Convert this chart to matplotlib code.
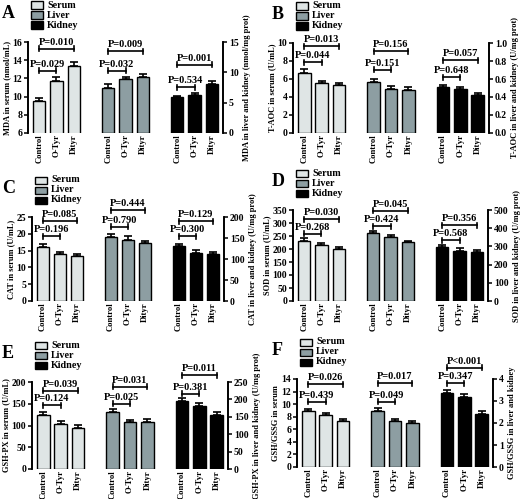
import matplotlib.pyplot as plt
from matplotlib.patches import Rectangle
from matplotlib.ticker import FormatStrFormatter

plt.rcParams['font.family'] = ['Liberation Serif', 'DejaVu Serif']
plt.rcParams['font.weight'] = 'bold'
plt.rcParams['axes.linewidth'] = 1.2

W, H = 520, 499

groups = ['Control', 'O-Tyr', 'Dityr']
tissues = ['Serum', 'Liver', 'Kidney']
tissue_colors = ['#dfe5e5', '#8d9ea2', '#000000']
xpos = [0, 1, 2, 4, 5, 6, 8, 9, 10]

# first 3 = serum (left axis), next 3 = liver, last 3 = kidney (right axis)
mda_mean = [9.5, 11.7, 13.4, 7.5, 8.9, 9.2, 6.0, 6.3, 8.1]
mda_err = [0.4, 0.45, 0.45, 0.5, 0.3, 0.45, 0.15, 0.35, 0.4]
taoc_mean = [6.7, 5.5, 5.3, 0.57, 0.485, 0.475, 0.507, 0.49, 0.422]
taoc_err = [0.4, 0.3, 0.3, 0.035, 0.04, 0.035, 0.025, 0.025, 0.025]
cat_mean = [16.1, 13.9, 13.3, 152, 145, 139, 130, 115, 111]
cat_err = [0.8, 0.8, 0.8, 8, 9, 5, 6, 6, 6]
sod_mean = [232, 215, 201, 372, 350, 323, 295, 276, 269]
sod_err = [9, 8, 6, 14, 12, 8, 12, 14, 10]
gsh_mean = [123, 103, 95, 165, 135, 135, 196, 181, 156]
gsh_err = [7, 7, 6, 7, 6, 8, 8, 8, 7]
ratio_mean = [8.9, 8.2, 7.3, 2.54, 2.1, 1.98, 3.38, 3.19, 2.4]
ratio_err = [0.4, 0.4, 0.3, 0.13, 0.1, 0.12, 0.1, 0.11, 0.13]

pairs = [(0, 1), (0, 2), (4, 5), (4, 6), (8, 9), (8, 10)]
mda_p = ['P=0.029', 'P=0.010', 'P=0.032', 'P=0.009', 'P=0.534', 'P=0.001']
taoc_p = ['P=0.044', 'P=0.013', 'P=0.151', 'P=0.156', 'P=0.648', 'P=0.057']
cat_p = ['P=0.196', 'P=0.085', 'P=0.790', 'P=0.444', 'P=0.300', 'P=0.129']
sod_p = ['P=0.268', 'P=0.030', 'P=0.424', 'P=0.045', 'P=0.568', 'P=0.356']
gsh_p = ['P=0.124', 'P=0.039', 'P=0.025', 'P=0.031', 'P=0.381', 'P=0.011']
ratio_p = ['P=0.439', 'P=0.026', 'P=0.049', 'P=0.017', 'P=0.347', 'P<0.001']

# bracket heights as fraction of axes height
mda_br = [0.685, 0.927, 0.685, 0.897, 0.505, 0.751]
taoc_br = [0.787, 0.963, 0.701, 0.907, 0.619, 0.806]
cat_br = [0.771, 0.953, 0.881, 1.079, 0.771, 0.949]
sod_br = [0.74, 0.90, 0.82, 0.99, 0.67, 0.835]
gsh_br = [0.732, 0.897, 0.751, 0.943, 0.866, 1.077]
ratio_br = [0.739, 0.942, 0.739, 0.953, 0.953, 1.127]

fig = plt.figure(figsize=(W / 100, H / 100), dpi=100)


def panel(box, letter, letter_x, mean, err, left_lim, right_lim, pvals, br,
          ylab_l, ylab_r, rfmt=None):
    x0, x1, y0, y1 = box
    ax = fig.add_axes([x0 / W, 1 - y1 / H, (x1 - x0) / W, (y1 - y0) / H])
    ax2 = ax.twinx()
    for k in range(3):
        sl = slice(3 * k, 3 * k + 3)
        a = ax if k == 0 else ax2
        a.bar(xpos[sl], mean[sl], width=0.72, color=tissue_colors[k],
              edgecolor='black', linewidth=1.0, zorder=2)
        a.errorbar(xpos[sl], mean[sl], yerr=[[0] * 3, err[sl]], fmt='none',
                   ecolor='black', elinewidth=1.2, capsize=2.8, capthick=1.2,
                   zorder=3)
    ax.set_xlim(-0.65, 10.65)
    ax.set_ylim(left_lim[0], left_lim[1])
    ax.set_yticks(range(left_lim[0], left_lim[1] + 1, left_lim[2]))
    ax2.set_ylim(right_lim[0], right_lim[1])
    if rfmt:
        ax2.set_yticks([i * right_lim[2] for i in range(6)])
        ax2.yaxis.set_major_formatter(FormatStrFormatter(rfmt))
    else:
        ax2.set_yticks(range(right_lim[0], int(right_lim[1]) + 1, right_lim[2]))
    ax.set_xticks(xpos)
    ax.set_xticklabels(groups * 3, rotation=90, fontsize=6.2, fontweight='bold')
    for a in (ax, ax2):
        a.spines['top'].set_visible(False)
        a.spines['bottom'].set_visible(False)
        a.tick_params(axis='y', direction='out', length=3, width=1.1,
                      labelsize=7, pad=1.2)
    ax.tick_params(axis='x', length=0, pad=1)
    ax.set_ylabel(ylab_l, fontsize=6, fontweight='bold', labelpad=1)
    ax2.set_ylabel(ylab_r, fontsize=6, fontweight='bold', labelpad=3)

    # significance brackets
    hpx = y1 - y0
    d = 2.5 / hpx
    tr = ax.get_xaxis_transform()
    for (i, j), y, txt in zip(pairs, br, pvals):
        ax.plot([i, j], [y, y], color='black', lw=1.2, transform=tr, clip_on=False)
        for xx in (i, j):
            ax.plot([xx, xx], [y - d, y + d], color='black', lw=1.2,
                    transform=tr, clip_on=False)
        ax.annotate(txt, xy=((i + j) / 2, y), xycoords=tr, xytext=(0, 1.5),
                    textcoords='offset points', ha='center', va='bottom',
                    fontsize=7.5, fontweight='bold', annotation_clip=False)

    # legend boxes
    for k, name in enumerate(tissues):
        cy = y0 - 37 + 10 * k
        fig.add_artist(Rectangle(((x0 + 3) / W, 1 - (cy + 3.5) / H), 12 / W, 7 / H,
                                 transform=fig.transFigure, facecolor=tissue_colors[k],
                                 edgecolor='black', linewidth=1.0))
        fig.text((x0 + 19) / W, 1 - cy / H, name, fontsize=7.3, fontweight='bold',
                 va='center', ha='left')
    fig.text(letter_x / W, 1 - (y0 - 37) / H, letter, fontsize=13, fontweight='bold',
             va='top', ha='left')


panel((28, 223, 42, 133), 'A', 2, mda_mean, mda_err, (6, 16, 2), (0, 15, 5),
      mda_p, mda_br, 'MDA in serum (nmol/mL)', 'MDA in liver and kidney (nmol/mg prot)')
panel((293, 489, 43, 133), 'B', 272, taoc_mean, taoc_err, (0, 10, 2), (0, 1.0, 0.2),
      taoc_p, taoc_br, 'T-AOC in serum (U/mL)', 'T-AOC in liver and kidney (U/mg prot)',
      rfmt='%.1f')
panel((32, 224, 217, 301), 'C', 2, cat_mean, cat_err, (0, 25, 5), (0, 200, 50),
      cat_p, cat_br, 'CAT in serum (U/mL)', 'CAT in liver and kidney (U/mg prot)')
panel((293, 488, 210, 301), 'D', 272, sod_mean, sod_err, (0, 350, 50), (0, 500, 100),
      sod_p, sod_br, 'SOD in serum (U/mL)', 'SOD in liver and kidney (U/mg prot)')
panel((32, 228, 382, 469), 'E', 2, gsh_mean, gsh_err, (0, 200, 50), (0, 250, 50),
      gsh_p, gsh_br, 'GSH-PX in serum (U/mL)', 'GSH-PX in liver and kidney (U/mg prot)')
panel((297, 493, 379, 467), 'F', 272, ratio_mean, ratio_err, (0, 14, 2), (0, 4, 1),
      ratio_p, ratio_br, 'GSH/GSSG in serum', 'GSH/GSSG in liver and kidney')

fig.savefig('out.png', dpi=100)
